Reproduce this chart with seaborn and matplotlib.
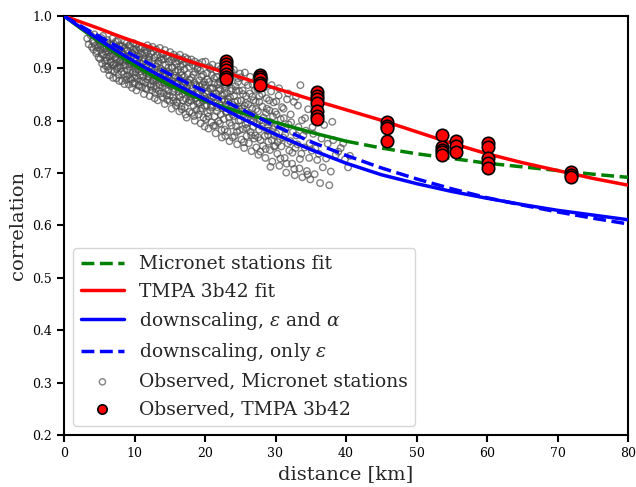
import matplotlib
matplotlib.use("Agg")
import matplotlib.pyplot as plt
import seaborn as sns

# Fitted correlation curves, sampled along distance (km)
fit_km = [0, 2.5, 5, 7.5, 10, 12.5, 15, 17.5, 20, 25, 30, 35, 40,
          45, 50, 55, 60, 65, 70, 75, 80]
micronet_fit = [1.000, 0.975, 0.951, 0.928, 0.906, 0.886, 0.868, 0.852, 0.838,
                0.816, 0.797, 0.778, 0.761, 0.748, 0.737, 0.728, 0.719, 0.712,
                0.705, 0.698, 0.692]
tmpa_fit = [1.000, 0.988, 0.976, 0.963, 0.951, 0.939, 0.927, 0.915, 0.904,
            0.883, 0.862, 0.841, 0.821, 0.801, 0.779, 0.757, 0.737, 0.720,
            0.705, 0.690, 0.677]
downscale_eps_alpha = [1.000, 0.977, 0.955, 0.933, 0.913, 0.894, 0.876, 0.858,
                       0.841, 0.806, 0.774, 0.745, 0.719, 0.697, 0.680, 0.665,
                       0.652, 0.640, 0.629, 0.620, 0.611]
downscale_eps = [1.000, 0.980, 0.961, 0.942, 0.924, 0.906, 0.889, 0.872, 0.856,
                 0.823, 0.790, 0.760, 0.734, 0.710, 0.689, 0.670, 0.653, 0.639,
                 0.626, 0.614, 0.603]
micronet_fit_range_km = 40  # extent of the station pair distances

# Observed correlations between Micronet station pairs
micronet_km = [
    3.3, 3.5, 3.8, 3.95,
    4.05, 4.18, 4.31, 4.42, 4.56, 4.67, 4.79, 4.91,
    5.04, 5.13, 5.22, 5.30, 5.41, 5.48, 5.57, 5.66, 5.72, 5.81, 5.88, 5.96,
    6.02, 6.09, 6.17, 6.23, 6.30, 6.38, 6.45, 6.52, 6.60, 6.66, 6.74, 6.80, 6.87, 6.94,
    7.01, 7.08, 7.15, 7.21, 7.29, 7.34, 7.42, 7.49, 7.54, 7.62, 7.69, 7.75, 7.81, 7.87, 7.93, 7.98,
    8.03, 8.11, 8.16, 8.24, 8.30, 8.37, 8.43, 8.50, 8.57, 8.62, 8.69, 8.76, 8.82, 8.88, 8.93, 8.99,
    9.02, 9.07, 9.14, 9.20, 9.27, 9.33, 9.41, 9.46, 9.52, 9.59, 9.65, 9.73, 9.78, 9.84, 9.91, 9.97,
    10.04, 10.10, 10.17, 10.22, 10.28, 10.36, 10.41, 10.49, 10.54, 10.61, 10.67, 10.72, 10.80, 10.85, 10.92, 10.98,
    11.03, 11.08, 11.15, 11.23, 11.28, 11.34, 11.42, 11.47, 11.55, 11.60, 11.68, 11.74, 11.79, 11.86, 11.93, 11.99,
    12.02, 12.09, 12.16, 12.21, 12.27, 12.35, 12.42, 12.48, 12.53, 12.60, 12.66, 12.73, 12.81, 12.86, 12.92, 12.97,
    13.05, 13.11, 13.17, 13.24, 13.30, 13.36, 13.43, 13.50, 13.56, 13.63, 13.68, 13.75, 13.82, 13.88, 13.94, 13.99,
    14.03, 14.10, 14.14, 14.22, 14.29, 14.33, 14.41, 14.47, 14.55, 14.61, 14.66, 14.74, 14.79, 14.85, 14.90, 14.97,
    15.02, 15.08, 15.16, 15.21, 15.27, 15.34, 15.40, 15.48, 15.53, 15.61, 15.67, 15.72, 15.78, 15.86, 15.91, 15.98,
    16.04, 16.09, 16.15, 16.23, 16.28, 16.35, 16.42, 16.47, 16.54, 16.59, 16.65, 16.73, 16.78, 16.84, 16.92, 16.97,
    17.01, 17.07, 17.14, 17.20, 17.29, 17.33, 17.40, 17.46, 17.55, 17.61, 17.66, 17.74, 17.80, 17.87, 17.93, 17.98,
    18.03, 18.10, 18.17, 18.22, 18.30, 18.36, 18.41, 18.49, 18.55, 18.60, 18.68, 18.75, 18.81, 18.86, 18.92, 18.99,
    19.04, 19.11, 19.18, 19.25, 19.31, 19.38, 19.44, 19.52, 19.58, 19.65, 19.72, 19.79, 19.85, 19.91, 19.97,
    20.03, 20.09, 20.17, 20.24, 20.30, 20.37, 20.45, 20.50, 20.58, 20.64, 20.71, 20.78, 20.84, 20.90, 20.98,
    21.02, 21.10, 21.16, 21.23, 21.29, 21.36, 21.43, 21.51, 21.57, 21.63, 21.70, 21.77, 21.83, 21.91, 21.96,
    22.05, 22.11, 22.18, 22.24, 22.31, 22.39, 22.44, 22.52, 22.59, 22.65, 22.71, 22.79, 22.85, 22.92, 22.98,
    23.03, 23.12, 23.19, 23.26, 23.33, 23.41, 23.48, 23.55, 23.62, 23.70, 23.77, 23.84, 23.90, 23.97,
    24.06, 24.13, 24.20, 24.27, 24.35, 24.42, 24.49, 24.56, 24.63, 24.70, 24.78, 24.85, 24.91, 24.98,
    25.04, 25.11, 25.18, 25.25, 25.34, 25.40, 25.47, 25.55, 25.61, 25.69, 25.76, 25.83, 25.90, 25.97,
    26.05, 26.13, 26.21, 26.28, 26.36, 26.44, 26.52, 26.60, 26.68, 26.75, 26.83, 26.90, 26.97,
    27.04, 27.12, 27.19, 27.27, 27.35, 27.43, 27.50, 27.58, 27.66, 27.74, 27.81, 27.89, 27.96,
    28.06, 28.14, 28.23, 28.31, 28.40, 28.48, 28.57, 28.65, 28.73, 28.82, 28.90, 28.98,
    29.05, 29.13, 29.21, 29.30, 29.38, 29.47, 29.55, 29.63, 29.72, 29.80, 29.88, 29.97,
    30.07, 30.16, 30.26, 30.35, 30.45, 30.55, 30.64, 30.74, 30.83, 30.93,
    31.08, 31.19, 31.30, 31.41, 31.52, 31.63, 31.74, 31.85, 31.95,
    32.10, 32.22, 32.35, 32.47, 32.60, 32.72, 32.84, 32.96,
    33.11, 33.25, 33.39, 33.53, 33.67, 33.81, 33.94,
    34.12, 34.29, 34.45, 34.62, 34.78, 34.93,
    35.15, 35.36, 35.55, 35.74, 35.92,
    36.14, 36.33, 36.52, 36.71, 36.90,
    37.18, 37.41, 37.63, 37.85,
    38.05, 38.20, 38.55, 38.90,
    39.25, 39.60, 39.85,
    40.30, 40.55,
    # second group of station pairs
    4.25, 4.62, 4.84,
    5.18, 5.36, 5.52, 5.69, 5.91,
    6.12, 6.27, 6.41, 6.55, 6.70, 6.84, 6.97,
    7.05, 7.18, 7.31, 7.45, 7.58, 7.72, 7.84, 7.96,
    8.06, 8.19, 8.33, 8.47, 8.61, 8.73, 8.86, 8.95,
    9.09, 9.22, 9.36, 9.50, 9.62, 9.76, 9.88, 9.95,
    10.06, 10.19, 10.31, 10.44, 10.58, 10.70, 10.83, 10.95,
    11.06, 11.19, 11.31, 11.45, 11.57, 11.70, 11.83, 11.96,
    12.05, 12.18, 12.30, 12.44, 12.57, 12.69, 12.83, 12.95,
    13.08, 13.20, 13.33, 13.47, 13.59, 13.71, 13.85, 13.97,
    14.07, 14.18, 14.31, 14.44, 14.58, 14.70, 14.83, 14.95,
    15.05, 15.19, 15.30, 15.44, 15.57, 15.69, 15.81, 15.95,
    16.06, 16.19, 16.31, 16.44, 16.56, 16.70, 16.81, 16.95,
    17.04, 17.17, 17.25, 17.37, 17.50, 17.63, 17.77, 17.90,
    18.07, 18.19, 18.33, 18.45, 18.58, 18.71, 18.84, 18.95,
    19.07, 19.21, 19.34, 19.48, 19.61, 19.75, 19.88, 19.94,
    20.06, 20.20, 20.33, 20.47, 20.61, 20.74, 20.87, 20.95,
    21.06, 21.19, 21.32, 21.46, 21.60, 21.73, 21.86, 21.98,
    22.08, 22.21, 22.35, 22.48, 22.62, 22.75, 22.88, 22.95,
    23.07, 23.22, 23.37, 23.51, 23.66, 23.80, 23.93,
    24.09, 24.24, 24.38, 24.53, 24.67, 24.81, 24.95,
    25.08, 25.22, 25.37, 25.52, 25.66, 25.80, 25.94,
    26.09, 26.24, 26.40, 26.56, 26.71, 26.87,
    27.08, 27.23, 27.39, 27.55, 27.70, 27.85,
    28.10, 28.27, 28.44, 28.61, 28.78, 28.94,
    29.10, 29.28, 29.45, 29.62, 29.79, 29.95,
    30.12, 30.31, 30.50, 30.69, 30.88,
    31.14, 31.36, 31.58, 31.80,
    32.15, 32.40, 32.66, 32.90,
    33.18, 33.46, 33.75,
    34.20, 34.55, 34.85,
    35.25, 35.65,
]
micronet_r = [
    0.957, 0.946, 0.963, 0.941,
    0.952, 0.936, 0.965, 0.944, 0.929, 0.958, 0.940, 0.921,
    0.947, 0.918, 0.935, 0.958, 0.909, 0.941, 0.926, 0.899, 0.951, 0.914, 0.932, 0.921,
    0.938, 0.915, 0.954, 0.903, 0.931, 0.922, 0.887, 0.946, 0.911, 0.935, 0.896, 0.927, 0.957, 0.906,
    0.925, 0.947, 0.894, 0.933, 0.910, 0.951, 0.881, 0.918, 0.940, 0.902, 0.929, 0.888, 0.944, 0.913, 0.905, 0.936,
    0.901, 0.931, 0.920, 0.876, 0.943, 0.912, 0.889, 0.927, 0.870, 0.939, 0.906, 0.917, 0.884, 0.948, 0.897, 0.923,
    0.934, 0.887, 0.915, 0.869, 0.903, 0.941, 0.896, 0.921, 0.878, 0.911, 0.863, 0.928, 0.892, 0.937, 0.907, 0.882,
    0.872, 0.914, 0.893, 0.936, 0.858, 0.905, 0.924, 0.880, 0.899, 0.941, 0.866, 0.911, 0.887, 0.929, 0.875, 0.902,
    0.909, 0.864, 0.927, 0.884, 0.898, 0.851, 0.919, 0.935, 0.873, 0.892, 0.906, 0.860, 0.931, 0.879, 0.915, 0.889,
    0.885, 0.922, 0.847, 0.903, 0.870, 0.929, 0.893, 0.858, 0.914, 0.878, 0.932, 0.866, 0.897, 0.843, 0.908, 0.881,
    0.861, 0.904, 0.877, 0.926, 0.839, 0.891, 0.913, 0.868, 0.882, 0.921, 0.852, 0.899, 0.873, 0.928, 0.845, 0.887,
    0.896, 0.853, 0.918, 0.871, 0.832, 0.884, 0.906, 0.862, 0.924, 0.877, 0.840, 0.893, 0.857, 0.912, 0.869, 0.881,
    0.848, 0.889, 0.866, 0.917, 0.823, 0.876, 0.901, 0.855, 0.838, 0.882, 0.921, 0.861, 0.894, 0.829, 0.872, 0.908,
    0.871, 0.834, 0.897, 0.856, 0.914, 0.818, 0.879, 0.845, 0.903, 0.864, 0.827, 0.887, 0.851, 0.908, 0.839, 0.868,
    0.859, 0.898, 0.826, 0.873, 0.842, 0.911, 0.806, 0.864, 0.889, 0.835, 0.852, 0.903, 0.817, 0.878, 0.846, 0.868,
    0.838, 0.882, 0.815, 0.861, 0.906, 0.829, 0.849, 0.873, 0.800, 0.893, 0.843, 0.866, 0.821, 0.855, 0.899, 0.833,
    0.851, 0.812, 0.877, 0.834, 0.896, 0.795, 0.859, 0.824, 0.869, 0.843, 0.888, 0.806, 0.847, 0.863, 0.829,
    0.842, 0.868, 0.803, 0.829, 0.891, 0.815, 0.856, 0.785, 0.874, 0.837, 0.820, 0.899, 0.848, 0.797, 0.861,
    0.826, 0.863, 0.790, 0.845, 0.881, 0.808, 0.834, 0.776, 0.852, 0.895, 0.818, 0.839, 0.870, 0.799, 0.857,
    0.833, 0.795, 0.859, 0.812, 0.878, 0.768, 0.841, 0.824, 0.887, 0.803, 0.851, 0.783, 0.866, 0.829, 0.816,
    0.818, 0.852, 0.779, 0.836, 0.872, 0.806, 0.761, 0.845, 0.824, 0.888, 0.791, 0.861, 0.812, 0.830,
    0.809, 0.847, 0.771, 0.826, 0.866, 0.789, 0.819, 0.755, 0.838, 0.881, 0.800, 0.857, 0.782, 0.814,
    0.801, 0.838, 0.764, 0.823, 0.858, 0.784, 0.812, 0.748, 0.829, 0.874, 0.793, 0.847, 0.771, 0.806,
    0.796, 0.831, 0.757, 0.815, 0.852, 0.779, 0.804, 0.742, 0.823, 0.869, 0.788, 0.839, 0.766,
    0.808, 0.772, 0.836, 0.749, 0.794, 0.861, 0.818, 0.735, 0.783, 0.847, 0.801, 0.763, 0.877,
    0.789, 0.827, 0.752, 0.806, 0.864, 0.771, 0.729, 0.815, 0.843, 0.781, 0.798, 0.760,
    0.781, 0.820, 0.744, 0.797, 0.856, 0.763, 0.722, 0.808, 0.835, 0.772, 0.790, 0.752,
    0.776, 0.812, 0.737, 0.791, 0.848, 0.714, 0.765, 0.803, 0.751, 0.826,
    0.768, 0.805, 0.729, 0.784, 0.701, 0.841, 0.757, 0.793, 0.743,
    0.761, 0.797, 0.718, 0.779, 0.836, 0.696, 0.748, 0.772,
    0.755, 0.788, 0.709, 0.868, 0.737, 0.692, 0.772,
    0.749, 0.781, 0.704, 0.822, 0.729, 0.688,
    0.743, 0.775, 0.698, 0.812, 0.725,
    0.737, 0.681, 0.766, 0.711, 0.792,
    0.728, 0.756, 0.677, 0.703,
    0.798, 0.763, 0.735, 0.741,
    0.748, 0.757, 0.726,
    0.711, 0.733,
    # second group of station pairs
    0.949, 0.933, 0.955,
    0.944, 0.927, 0.962, 0.938, 0.905,
    0.949, 0.897, 0.939, 0.924, 0.912, 0.944, 0.882,
    0.908, 0.935, 0.921, 0.899, 0.952, 0.927, 0.876, 0.915,
    0.942, 0.893, 0.928, 0.905, 0.951, 0.915, 0.878, 0.934,
    0.919, 0.944, 0.881, 0.909, 0.930, 0.871, 0.948, 0.900,
    0.931, 0.886, 0.945, 0.909, 0.868, 0.922, 0.938, 0.894,
    0.941, 0.876, 0.913, 0.929, 0.862, 0.901, 0.944, 0.884,
    0.917, 0.938, 0.865, 0.899, 0.941, 0.875, 0.921, 0.853,
    0.936, 0.883, 0.909, 0.857, 0.939, 0.894, 0.917, 0.866,
    0.927, 0.874, 0.935, 0.891, 0.848, 0.919, 0.902, 0.838,
    0.931, 0.871, 0.902, 0.845, 0.926, 0.886, 0.913, 0.836,
    0.921, 0.882, 0.849, 0.926, 0.893, 0.822, 0.917, 0.876,
    0.884, 0.921, 0.812, 0.856, 0.918, 0.873, 0.839, 0.911,
    0.917, 0.852, 0.888, 0.809, 0.913, 0.869, 0.837, 0.901,
    0.909, 0.866, 0.819, 0.884, 0.912, 0.838, 0.874, 0.789,
    0.913, 0.851, 0.879, 0.808, 0.902, 0.862, 0.829, 0.887,
    0.907, 0.846, 0.872, 0.791, 0.884, 0.826, 0.904, 0.862,
    0.874, 0.899, 0.782, 0.848, 0.906, 0.838, 0.771, 0.869,
    0.901, 0.842, 0.873, 0.796, 0.857, 0.893, 0.768,
    0.897, 0.836, 0.858, 0.779, 0.874, 0.823, 0.890,
    0.883, 0.818, 0.851, 0.759, 0.892, 0.834, 0.786,
    0.868, 0.812, 0.884, 0.772, 0.846, 0.799,
    0.859, 0.822, 0.887, 0.768, 0.836, 0.741,
    0.851, 0.796, 0.879, 0.746, 0.823, 0.773,
    0.839, 0.712, 0.868, 0.784, 0.751, 0.817,
    0.837, 0.759, 0.862, 0.728, 0.789,
    0.823, 0.774, 0.718, 0.852,
    0.812, 0.739, 0.708, 0.846,
    0.829, 0.727, 0.801,
    0.805, 0.697, 0.757,
    0.788, 0.747,
]

# Observed correlations between TMPA 3b42 pixels
tmpa_km = [22.95] * 7 + [27.8] * 5 + [35.9] * 7 + [45.8] * 4 + [53.6] * 5 \
    + [55.6] * 3 + [60.1] * 5 + [71.9] * 3
tmpa_r = [0.915, 0.908, 0.902, 0.897, 0.890, 0.884, 0.880,
          0.888, 0.884, 0.879, 0.873, 0.868,
          0.854, 0.848, 0.841, 0.833, 0.818, 0.810, 0.803,
          0.797, 0.790, 0.786, 0.761,
          0.773, 0.750, 0.745, 0.740, 0.735,
          0.761, 0.751, 0.740,
          0.758, 0.749, 0.728, 0.720, 0.709,
          0.703, 0.697, 0.692]

sns.set_theme(style="ticks")
plt.rcParams["font.family"] = ["DejaVu Serif"]
plt.rcParams["mathtext.fontset"] = "dejavuserif"
plt.rcParams["axes.linewidth"] = 1.5
plt.rcParams["axes.edgecolor"] = "black"
plt.rcParams["xtick.color"] = "black"
plt.rcParams["ytick.color"] = "black"

fig = plt.figure(figsize=(6.36, 4.87), dpi=100)
ax = fig.add_axes([64 / 636, 52 / 487, 564 / 636, 419 / 487])

sns.scatterplot(x=micronet_km, y=micronet_r, ax=ax, s=22, facecolor="none",
                edgecolor="0.3", linewidth=1.0, alpha=0.7, zorder=2)
h_mic_obs = ax.collections[-1]

lw = 2.5
in_range = [i for i, d in enumerate(fit_km) if d <= micronet_fit_range_km]
beyond = [i for i, d in enumerate(fit_km) if d >= micronet_fit_range_km]
sns.lineplot(x=[fit_km[i] for i in in_range], y=[micronet_fit[i] for i in in_range],
             ax=ax, color="green", lw=lw, zorder=3)
sns.lineplot(x=[fit_km[i] for i in beyond], y=[micronet_fit[i] for i in beyond],
             ax=ax, color="green", lw=lw, ls="--", zorder=3)
h_mic_fit = ax.lines[-1]
sns.lineplot(x=fit_km, y=tmpa_fit, ax=ax, color="red", lw=lw, zorder=3)
h_tmpa_fit = ax.lines[-1]
sns.lineplot(x=fit_km, y=downscale_eps_alpha, ax=ax, color="blue", lw=lw, zorder=3)
h_ea = ax.lines[-1]
sns.lineplot(x=fit_km, y=downscale_eps, ax=ax, color="blue", lw=lw, ls="--", zorder=3)
h_e = ax.lines[-1]

sns.scatterplot(x=tmpa_km, y=tmpa_r, ax=ax, s=80, color="red",
                edgecolor="black", linewidth=1.2, zorder=4)
h_tmpa_obs = ax.collections[-1]

ax.set_xlim(0, 80)
ax.set_ylim(0.2, 1.0)
ax.set_xticks(range(0, 81, 10))
ax.set_yticks([0.2, 0.3, 0.4, 0.5, 0.6, 0.7, 0.8, 0.9, 1.0])
ax.tick_params(labelsize=9, length=5, width=1.5, direction="out")
ax.set_xlabel("distance [km]", fontsize=14)
ax.set_ylabel("correlation", fontsize=14)

leg = ax.legend(
    [h_mic_fit, h_tmpa_fit, h_ea, h_e, h_mic_obs, h_tmpa_obs],
    ["Micronet stations fit", "TMPA 3b42 fit",
     r"downscaling, $\epsilon$ and $\alpha$", r"downscaling, only $\epsilon$",
     "Observed, Micronet stations", "Observed, TMPA 3b42"],
    loc="lower left", fontsize=13.5, labelspacing=0.5, handlelength=2.3,
    frameon=True,
)
leg.legend_handles[4].set_sizes([20])
leg.legend_handles[5].set_sizes([45])

fig.savefig("out.png", dpi=100)
